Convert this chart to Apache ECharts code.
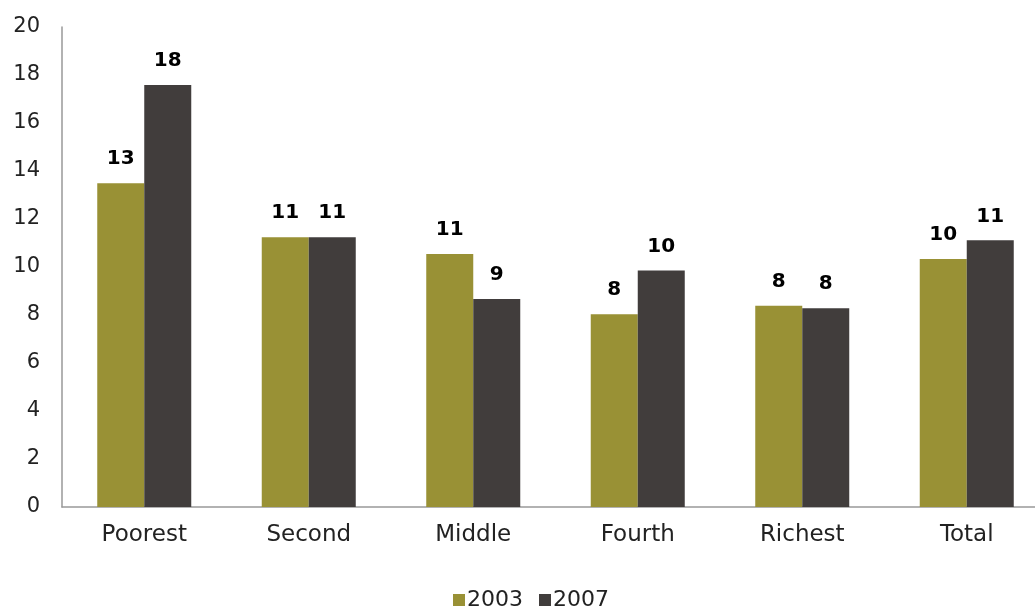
<!DOCTYPE html>
<html><head><meta charset="utf-8">
<script src="https://cdn.jsdelivr.net/npm/echarts@6/dist/echarts.min.js"></script>
<style>html,body{margin:0;padding:0;background:#fff}#c{width:1035px;height:615px}</style>
</head><body><div id="c"></div>
<script>
var categories = ['Poorest','Second','Middle','Fourth','Richest','Total'];
var s2003 = [13.49, 11.24, 10.54, 8.03, 8.39, 10.33];
var s2007 = [17.58, 11.24, 8.67, 9.85, 8.28, 11.11];
var yTicks = [0,2,4,6,8,10,12,14,16,18,20];
var font = 'DejaVu Sans';
var chart = echarts.init(document.getElementById('c'));
var lbl = {show:true, position:'top', distance:14, fontFamily:font, fontWeight:'bold', fontSize:20, color:'#000',
  formatter:function(p){return Math.round(p.value);}};
chart.setOption({
  animation:false,
  textStyle:{fontFamily:font},
  grid:{left:62, top:27, width:987, height:480, outerBoundsMode:'none', containLabel:false},
  legend:{bottom:-1, left:448, itemWidth:12, itemHeight:12, itemGap:16,
    icon:'rect', textStyle:{fontFamily:font, fontSize:22, color:'#222', padding:[0,0,0,-3]},
    data:['2003','2007']},
  xAxis:{type:'category', data:categories,
    axisLine:{lineStyle:{color:'#999', width:1.5}}, axisTick:{show:false},
    axisLabel:{fontFamily:font, fontSize:23, color:'#222', margin:17}},
  yAxis:{type:'value', min:yTicks[0], max:yTicks[yTicks.length-1], interval:2,
    axisLine:{show:true, lineStyle:{color:'#999', width:1.5}}, axisTick:{show:false},
    splitLine:{show:false},
    axisLabel:{fontFamily:font, fontSize:21, color:'#222', margin:22}},
  series:[
    {name:'2003', type:'bar', data:s2003, barWidth:47, barGap:'0%', itemStyle:{color:'#999135'}, label:lbl},
    {name:'2007', type:'bar', data:s2007, barWidth:47, barGap:'0%', itemStyle:{color:'#413d3c'}, label:lbl}
  ]
});
</script></body></html>
